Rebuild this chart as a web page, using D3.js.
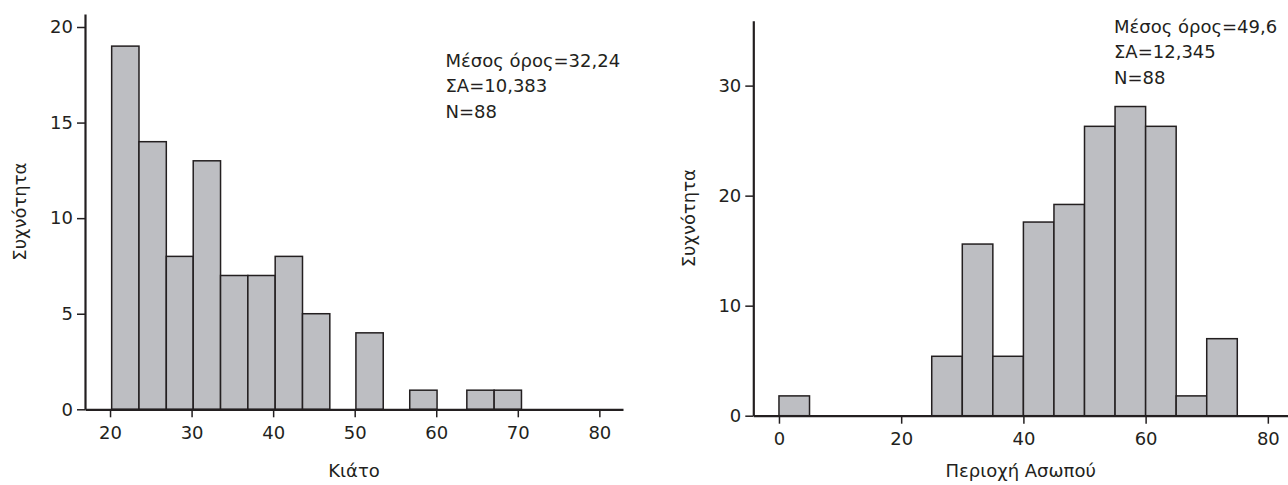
<!DOCTYPE html>
<html>
<head>
<meta charset="utf-8">
<script src="https://cdn.jsdelivr.net/npm/d3@7"></script>
<style>
  html, body { margin: 0; padding: 0; background: #fff; }
  svg { display: block; }
  text { font-family: "DejaVu Sans", sans-serif; fill: #231f20; }
</style>
</head>
<body>
<svg id="chart" width="1288" height="485"></svg>
<script>
// ---------- Data ----------
// Left histogram: Κιάτο
const leftEdges  = [20.2, 23.55, 26.9, 30.2, 33.55, 36.9, 40.25, 43.6, 46.95, 50.15, 53.5, 56.75, 60.1, 63.75, 67.1, 70.45];
const leftCounts = [19, 14, 8, 13, 7, 7, 8, 5, 0, 4, 0, 1, 0, 1, 1];
const leftXTicks = [20, 30, 40, 50, 60, 70, 80];
const leftYTicks = [0, 5, 10, 15, 20];
const leftXTitle = "Κιάτο";
const leftStats  = ["Μέσος όρος=32,24", "ΣΑ=10,383", "N=88"];

// Right histogram: Περιοχή Ασωπού
const rightEdges  = [0, 5, 10, 15, 20, 25, 30, 35, 40, 45, 50, 55, 60, 65, 70, 75];
const rightCounts = [1.8, 0, 0, 0, 0, 5.4, 15.6, 5.4, 17.6, 19.2, 26.3, 28.1, 26.3, 1.8, 7.0];
const rightXTicks = [0, 20, 40, 60, 80];
const rightYTicks = [0, 10, 20, 30];
const rightXTitle = "Περιοχή Ασωπού";
const rightStats  = ["Μέσος όρος=49,6", "ΣΑ=12,345", "N=88"];

const yTitle = "Συχνότητα";

// ---------- Drawing ----------
const svg = d3.select("#chart");
const INK = "#231f20";

function drawHist(cfg) {
  const g = svg.append("g");
  const x = d3.scaleLinear().domain(cfg.xDomain).range(cfg.xRange);
  const y = d3.scaleLinear().domain(cfg.yDomain).range(cfg.yRange);

  const bins = cfg.counts.map((c, i) => ({ x0: cfg.edges[i], x1: cfg.edges[i + 1], c }))
    .filter(b => b.c > 0);

  g.selectAll("rect.bar").data(bins).enter().append("rect")
    .attr("class", "bar")
    .attr("x", d => x(d.x0))
    .attr("width", d => x(d.x1) - x(d.x0))
    .attr("y", d => y(d.c))
    .attr("height", d => y(0) - y(d.c))
    .attr("fill", "#bdbec2")
    .attr("stroke", INK)
    .attr("stroke-width", 1.5);

  const xAxis = g.append("g")
    .attr("transform", `translate(0,${y(0)})`)
    .call(d3.axisBottom(x).tickValues(cfg.xTicks).tickSize(8).tickSizeOuter(0).tickPadding(9));
  const yAxis = g.append("g")
    .attr("transform", `translate(${x.range()[0]},0)`)
    .call(d3.axisLeft(y).tickValues(cfg.yTicks).tickSize(8).tickSizeOuter(0).tickPadding(4));

  [xAxis, yAxis].forEach(a => {
    a.select(".domain").attr("stroke", INK).attr("stroke-width", 2.2);
    a.selectAll(".tick line").attr("stroke", INK).attr("stroke-width", 1.5);
    a.selectAll(".tick text").style("font-family", "'DejaVu Sans', sans-serif")
      .style("font-size", "18px").attr("fill", INK);
  });

  // axis titles
  g.append("text")
    .attr("x", (x.range()[0] + x.range()[1]) / 2)
    .attr("y", cfg.xTitleY)
    .attr("text-anchor", "middle")
    .style("font-size", "18px")
    .text(cfg.xTitle);

  g.append("text")
    .attr("transform", `translate(${cfg.yTitleX},${(y.range()[0] + y.range()[1]) / 2}) rotate(-90)`)
    .attr("text-anchor", "middle")
    .style("font-size", "18px")
    .text(yTitle);

  // stats
  g.selectAll("text.stat").data(cfg.stats).enter().append("text")
    .attr("class", "stat")
    .attr("x", cfg.statX)
    .attr("y", (d, i) => cfg.statY + i * 25.3)
    .style("font-size", "18px")
    .text(d => d);
}

drawHist({
  edges: leftEdges, counts: leftCounts,
  xDomain: [16.93, 82.9], xRange: [85, 623],
  yDomain: [0, 20.68], yRange: [409.3, 14],
  xTicks: leftXTicks, yTicks: leftYTicks,
  xTitle: leftXTitle, xTitleY: 477, yTitleX: 26,
  stats: leftStats, statX: 445.5, statY: 67
});

drawHist({
  edges: rightEdges, counts: rightCounts,
  xDomain: [-4.2, 83.3], xRange: [753.3, 1288],
  yDomain: [0, 35.9], yRange: [415.7, 20.7],
  xTicks: rightXTicks, yTicks: rightYTicks,
  xTitle: rightXTitle, xTitleY: 477, yTitleX: 695,
  stats: rightStats, statX: 1114, statY: 33
});
</script>
</body>
</html>
